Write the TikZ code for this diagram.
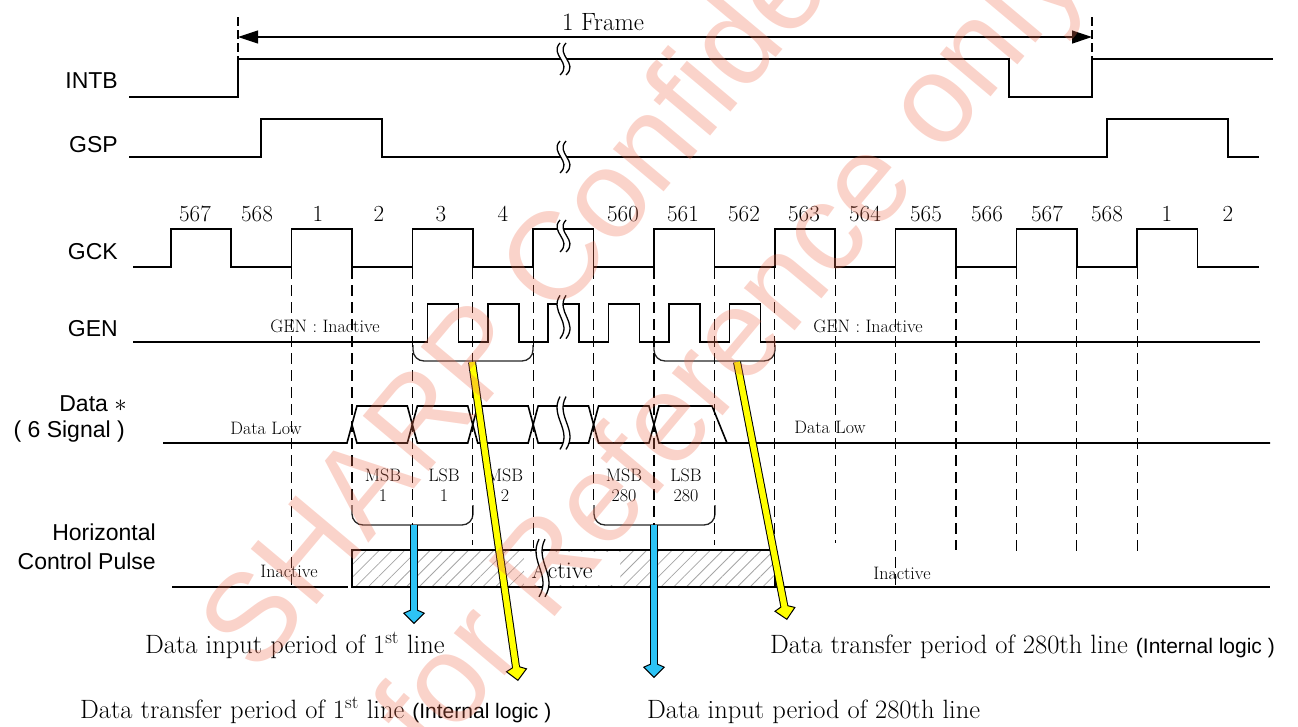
\documentclass[tikz,border=0pt]{standalone}
\usepackage{fontspec}
\setsansfont{Liberation Sans}
\usetikzlibrary{arrows.meta, patterns.meta, positioning}

\definecolor{inblue}{RGB}{45,195,245}
\definecolor{xferyellow}{RGB}{255,255,0}
\definecolor{stamp}{RGB}{240,110,80}

% fat outlined arrow: colour, from, to
\newcommand\fatarrow[3]{%
  \draw[line width=8pt, -{Kite[length=16pt, width=22pt, inset=5pt, line width=1pt, fill=#1]}] (#2) -- (#3);
  \draw[line width=6pt, #1, shorten >=10pt] (#2) -- (#3);}

\tikzset{
  cutmark/.pic={
    \fill[white] (-3,-16) .. controls (-14,-4) and (10,4) .. (-3,16) -- (3,16) .. controls (16,4) and (-8,-4) .. (3,-16) -- cycle;
    \draw[line width=1.3pt] (-3,-16) .. controls (-14,-4) and (10,4) .. (-3,16);
    \draw[line width=1.3pt] (3,-16) .. controls (-8,-4) and (16,4) .. (3,16);
  }
}

\begin{document}
\begin{tikzpicture}[
    x=1pt, y=-1pt,
    wave/.style={line width=1.6pt},
    guide/.style={line width=1.2pt, dash pattern=on 11pt off 6pt},
    bracket/.style={line width=1.3pt, black!85, rounded corners=11pt},
    sig/.style={anchor=east, inner sep=0pt, font=\sffamily\fontsize{23}{26}\selectfont},
    num/.style={font=\fontsize{23}{25}\selectfont},
    cell/.style={font=\fontsize{18}{20}\selectfont, align=center},
    periodtext/.style={anchor=base west, inner sep=0pt, font=\fontsize{26.5}{30}\selectfont},
    stampfont/.style={font=\sffamily\fontsize{125}{125}\selectfont, text=stamp, rotate=50, anchor=base west, inner sep=0pt}
  ]
  \useasboundingbox (0,0) rectangle (1298,726);

  % signal names
  \node[sig] (intb) at (118,81) {INTB};
  \node[sig] (gsp) at (118,145) {GSP};
  \node[sig] (gck) at (118,252) {GCK};
  \node[sig] (gen) at (118,329) {GEN};
  \node[sig] (data) at (127,404) {Data $\ast$};
  \node[sig] (dsig) at (125,432) {( 6 Signal )};
  \node[sig] (hor) at (156,532) {Horizontal};
  \node[sig] (hcp) at (156,561) {Control Pulse};

  % one frame
  \coordinate (fl) at (238,37);
  \coordinate (fr) at (1092,37);
  \draw[guide, dash pattern=on 9pt off 4pt] (238,17) -- (238,58);
  \draw[guide, dash pattern=on 9pt off 4pt] (1092,17) -- (1092,58);
  \draw[line width=1.2pt, {Triangle[length=20pt,width=13pt]}-{Triangle[length=20pt,width=13pt]}] (fl) -- (fr);
  \node[font=\fontsize{25}{27}\selectfont] (frame) at (603,22) {1 Frame};

  % INTB, GSP
  \draw[wave] (129,97) -| (238,59) -| (1009,97) -| (1092,59) -- (1273,59);
  \draw[wave] (129,157) -| (261,119) -| (382,157) -| (1107,119) -| (1228,157) -- (1259,157);

  % GCK
  \draw[wave] (133,267) \foreach \k in {0,2,...,16} { -| ({170.7+60.41*\k},229) -| ({231.11+60.41*\k},267) } -- (1259,267);
  \foreach \n/\x in {567/195, 568/257, 1/318, 2/379, 3/441, 4/503, 560/623, 561/683, 562/744,
      563/804, 564/865, 565/926, 566/987, 567/1047, 568/1107, 1/1167, 2/1228}
    \node[num] (clk\x) at (\x,214) {\n};

  % GEN
  \draw[wave] (133,342) \foreach \k in {4,...,9} { -| ({185.7+60.41*\k},304) -| ({216.7+60.41*\k},342) } -- (1260,342);
  \node[cell] (geninl) at (325,326) {GEN : Inactive};
  \node[cell] (geninr) at (868,326) {GEN : Inactive};

  % Data bus
  \draw[wave] (163,443) -- (347,443) -- (352,424.5);
  \foreach \k in {3,...,7}
    \draw[wave] ({170.7+60.41*\k},424.5) -- ({175.7+60.41*\k},406) -- ({226.1+60.41*\k},406)
      -- ({231.11+60.41*\k},424.5) -- ({226.1+60.41*\k},443) -- ({175.7+60.41*\k},443) -- cycle;
  \draw[wave] (654,424.5) -- (659,406) -- (712,406) -- (727,443) -- (1270,443);
  \draw[wave] (654,424.5) -- (659,443) -- (727,443);
  \node[cell] (lowl) at (266,428) {Data Low};
  \node[cell] (lowr) at (830,427) {Data Low};
  \node[cell] (msb1) at (383,485) {MSB\\1};
  \node[cell] (lsb1) at (444,485) {LSB\\1};
  \node[cell] (msb2) at (505,485) {MSB\\2};
  \node[cell] (msb280) at (624,485) {MSB\\280};
  \node[cell] (lsb280) at (686,485) {LSB\\280};

  % brackets
  \draw[bracket] (413,345) -- (413,361) -- (533,361) -- (533,345);
  \draw[bracket] (654,345) -- (654,361) -- (775,361) -- (775,345);
  \draw[bracket] (352,505) -- (352,525) -- (473,525) -- (473,505);
  \draw[bracket] (594,505) -- (594,525) -- (715,525) -- (715,505);

  % clock edge guides
  \foreach \k/\b in {2/585, 3/505, 4/525, 5/545, 6/548, 7/505, 8/525, 9/545, 10/550,
      11/543, 12/587, 13/550, 14/553, 15/552, 16/553}
    \draw[guide] ({170.7+60.41*\k},268) -- ({170.7+60.41*\k},\b);

  % horizontal control pulse
  \draw[wave] (172,587) -- (348,587);
  \fill[pattern={Lines[angle=45, distance=9pt, line width=0.8pt]}, pattern color=black!35] (352,550) rectangle (775,587);
  \fill[white] (524,552) rectangle (620,585);
  \draw[line width=1.4pt] (352,550) rectangle (775,587);
  \draw[wave] (775,587) -- (1270,587);
  \node[font=\fontsize{24}{26}\selectfont] (active) at (562,570) {Active};
  \node[cell] (inactl) at (289,571) {Inactive};
  \node[cell] (inactr) at (902,573) {Inactive};

  % breaks
  \pic at (563,59) {cutmark};
  \pic at (563,157) {cutmark};
  \pic at (563,236) {cutmark};
  \pic[yscale=1.35] at (563,317) {cutmark};
  \pic[yscale=1.65] at (563,423) {cutmark};
  \pic[yscale=1.8] at (542,568) {cutmark};

  % periods
  \coordinate (in1) at (414,525);
  \coordinate (in1tip) at (414,624);
  \coordinate (in2) at (654,525);
  \coordinate (in2tip) at (654,678);
  \coordinate (tr1) at (472,362);
  \coordinate (tr1tip) at (518,681);
  \coordinate (tr2) at (737,362);
  \coordinate (tr2tip) at (787,620);
  \fatarrow{inblue}{in1}{in1tip}
  \fatarrow{inblue}{in2}{in2tip}
  \fatarrow{xferyellow}{tr1}{tr1tip}
  \fatarrow{xferyellow}{tr2}{tr2tip}

  \node[periodtext] (p1) at (145,653) {Data input period of 1\textsuperscript{st} line};
  \node[periodtext] (p2) at (80,718) {Data transfer period of 1\textsuperscript{st} line {\sffamily\fontsize{21}{24}\selectfont(Internal logic )}};
  \node[periodtext] (p3) at (770,653) {Data transfer period of 280th line {\sffamily\fontsize{21}{24}\selectfont(Internal logic )}};
  \node[periodtext] (p4) at (647,718) {Data input period of 280th line};

  % stamp
  \begin{scope}[opacity=0.3]
    \node[stampfont] (wm1) at (257,677) {SHARP Confidential};
    \node[stampfont] (wm2) at (432,763) {for Reference only};
  \end{scope}
\end{tikzpicture}
\end{document}
